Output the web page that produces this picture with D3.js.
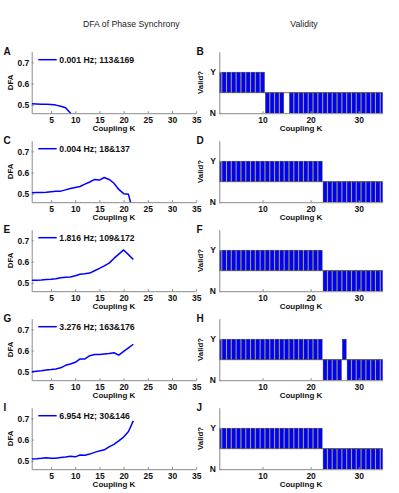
<!DOCTYPE html>
<html><head><meta charset="utf-8">
<script src="https://cdn.jsdelivr.net/npm/d3@7"></script>
<style>body{margin:0;background:#fff}</style>
</head><body><svg id="c" width="399" height="493"></svg>
<script>
// ---------- data ----------
const couplingK = [1,2,3,4,5,6,7,8,9,10,11,12,13,14,15,16,17,18,19,20,21,22,23,24,25,26,27,28,29,30,31,32,33,34,35];

const dfaA = [0.505,0.504,0.503,0.503,0.502,0.499,0.494,0.487,0.462,0.400];
const dfaC = [0.505,0.506,0.507,0.508,0.510,0.512,0.513,0.519,0.525,0.530,0.535,0.546,0.556,0.568,0.565,0.577,0.568,0.550,0.521,0.501,0.498,0.410];
const dfaE = [0.512,0.513,0.514,0.516,0.517,0.519,0.524,0.526,0.528,0.534,0.541,0.543,0.546,0.557,0.568,0.580,0.593,0.615,0.635,0.655,0.633,0.610];
const dfaG = [0.501,0.503,0.505,0.509,0.511,0.514,0.519,0.531,0.537,0.545,0.561,0.561,0.576,0.582,0.582,0.584,0.586,0.590,0.579,0.596,0.613,0.630];
const dfaI = [0.509,0.510,0.512,0.515,0.512,0.513,0.516,0.518,0.522,0.519,0.528,0.527,0.532,0.540,0.547,0.552,0.566,0.578,0.594,0.612,0.638,0.688];

// validity: 1 = Y, -1 = N, null = no bar
const validB = [1,1,1,1,1,1,1,1,1,1,-1,-1,-1,-1,null,-1,-1,-1,-1,-1,-1,-1,-1,-1,-1,-1,-1,-1,-1,-1,-1,-1,-1,-1,-1];
const validD = [1,1,1,1,1,1,1,1,1,1,1,1,1,1,1,1,1,1,1,1,1,1,-1,-1,-1,-1,-1,-1,-1,-1,-1,-1,-1,-1,-1];
const validF = [1,1,1,1,1,1,1,1,1,1,1,1,1,1,1,1,1,1,1,1,1,1,-1,-1,-1,-1,-1,-1,-1,-1,-1,-1,-1,-1,-1];
const validH = [1,1,1,1,1,1,1,1,1,1,1,1,1,1,1,1,1,1,1,1,1,1,-1,-1,-1,-1,1,-1,-1,-1,-1,-1,-1,-1,-1];
const validJ = [1,1,1,1,1,1,1,1,1,1,1,1,1,1,1,1,1,1,1,1,1,1,-1,-1,-1,-1,-1,-1,-1,-1,-1,-1,-1,-1,-1];

const legendLabels = ["0.001 Hz; 113&169","0.004 Hz; 18&137","1.816 Hz; 109&172","3.276 Hz; 163&176","6.954 Hz; 30&146"];
const leftLetters = ["A","C","E","G","I"];
const rightLetters = ["B","D","F","H","J"];
const dfaTicks = [0.5,0.6,0.7];
const kTicksLeft = [5,10,15,20,25,30,35];
const kTicksRight = [10,20,30];
const validTickValues = [-1,1];
const validTickLabels = ["N","Y"];
const titles = ["DFA of Phase Synchrony","Validity"];

const dfaSeries = [dfaA,dfaC,dfaE,dfaG,dfaI];
const validSeries = [validB,validD,validF,validH,validJ];

// ---------- drawing ----------
const svg = d3.select("#c");
const FONT = "'Liberation Sans', Arial, Helvetica, sans-serif";
const BLUE = "#0000ff";
const AX = "#8a8a8a";

svg.append("text").attr("x",131.3).attr("y",27).attr("text-anchor","middle")
  .attr("font-family",FONT).attr("font-size",8.7).attr("fill","#222").text(titles[0]);
svg.append("text").attr("x",304).attr("y",27).attr("text-anchor","middle")
  .attr("font-family",FONT).attr("font-size",8.7).attr("fill","#222").text(titles[1]);

function styleAxis(g){
  g.select(".domain").attr("stroke",AX).attr("stroke-width",1);
  g.selectAll(".tick line").attr("stroke",AX);
  g.selectAll(".tick text").attr("font-family",FONT).attr("font-size",8.5)
    .attr("font-weight","bold").attr("fill","#111");
}

for (let i=0;i<5;i++){
  const top = 51.7 + i*89;
  const bottom = top + 61.5;

  // ----- left panel -----
  const xL = d3.scaleLinear().domain([1,35]).range([31.7,196.2]);
  const yL = d3.scaleLinear().domain([0.461,0.75]).range([bottom,top]);
  const clipL = "clipL"+i;
  svg.append("clipPath").attr("id",clipL).append("rect")
    .attr("x",xL(1)).attr("y",top).attr("width",xL(35)-xL(1)).attr("height",bottom-top);

  const gxL = svg.append("g").attr("transform",`translate(0,${bottom})`)
    .call(d3.axisBottom(xL).tickValues(kTicksLeft).tickSizeInner(-2).tickSizeOuter(0).tickPadding(4).tickFormat(d3.format("d")));
  styleAxis(gxL);
  const gyL = svg.append("g").attr("transform",`translate(${xL(1)},0)`)
    .call(d3.axisLeft(yL).tickValues(dfaTicks).tickSizeInner(-2).tickSizeOuter(0).tickPadding(2.4).tickFormat(d3.format(".1f")));
  styleAxis(gyL);

  const line = d3.line().x((d,j)=>xL(couplingK[j])).y(d=>yL(d));
  svg.append("path").datum(dfaSeries[i]).attr("clip-path",`url(#${clipL})`)
    .attr("d",line).attr("fill","none").attr("stroke",BLUE).attr("stroke-width",1.5)
    .attr("stroke-linejoin","round");

  // legend
  const lx = xL(1);
  svg.append("line").attr("x1",lx+6.6).attr("x2",lx+25).attr("y1",top+8).attr("y2",top+8)
    .attr("stroke",BLUE).attr("stroke-width",1.5);
  svg.append("text").attr("x",lx+27.6).attr("y",top+11).attr("font-family",FONT)
    .attr("font-size",8.7).attr("font-weight","bold").attr("fill","#111").text(legendLabels[i]);

  svg.append("text").attr("transform",`translate(12.7,${(top+bottom)/2}) rotate(-90)`)
    .attr("text-anchor","middle").attr("font-family",FONT).attr("font-size",7.8)
    .attr("font-weight","bold").attr("fill","#111").text("DFA");
  svg.append("text").attr("x",(xL(1)+xL(35))/2).attr("y",bottom+17.5).attr("text-anchor","middle")
    .attr("font-family",FONT).attr("font-size",8).attr("font-weight","bold").attr("fill","#111")
    .text("Coupling K");
  svg.append("text").attr("x",3.5).attr("y",top+3.5).attr("font-family",FONT).attr("font-size",10)
    .attr("font-weight","bold").attr("fill","#111").text(leftLetters[i]);

  // ----- right panel -----
  const xR = d3.scaleLinear().domain([1,35]).range([219.3,382.7]);
  const yR = d3.scaleLinear().domain([-1,2]).range([bottom,top]);
  const clipR = "clipR"+i;
  svg.append("clipPath").attr("id",clipR).append("rect")
    .attr("x",xR(1)).attr("y",top).attr("width",xR(35)-xR(1)).attr("height",bottom-top);

  const bars = couplingK.map((k,j)=>({k:k,v:validSeries[i][j]})).filter(d=>d.v!==null);
  const bw = xR(1.8)-xR(1);
  svg.append("g").attr("clip-path",`url(#${clipR})`).selectAll("rect").data(bars).join("rect")
    .attr("x",d=>xR(d.k-0.4)).attr("width",bw)
    .attr("y",d=>Math.min(yR(d.v),yR(0))).attr("height",d=>Math.abs(yR(d.v)-yR(0)))
    .attr("fill",BLUE).attr("stroke","#3a3a3a").attr("stroke-width",0.5);
  svg.append("line").attr("x1",xR(1)).attr("x2",xR(35)).attr("y1",yR(0)).attr("y2",yR(0))
    .attr("stroke","#555").attr("stroke-width",0.8);

  const gxR = svg.append("g").attr("transform",`translate(0,${bottom})`)
    .call(d3.axisBottom(xR).tickValues(kTicksRight).tickSizeInner(-2).tickSizeOuter(0).tickPadding(4).tickFormat(d3.format("d")));
  styleAxis(gxR);
  const gyR = svg.append("g").attr("transform",`translate(${xR(1)},0)`)
    .call(d3.axisLeft(yR).tickValues(validTickValues).tickSizeInner(-2).tickSizeOuter(0).tickPadding(3.4)
      .tickFormat((d,j)=>validTickLabels[j]));
  styleAxis(gyR);

  svg.append("text").attr("transform",`translate(203,${(top+bottom)/2}) rotate(-90)`)
    .attr("text-anchor","middle").attr("font-family",FONT).attr("font-size",7.8)
    .attr("font-weight","bold").attr("fill","#111").text("Valid?");
  svg.append("text").attr("x",(xR(1)+xR(35))/2).attr("y",bottom+17.5).attr("text-anchor","middle")
    .attr("font-family",FONT).attr("font-size",8).attr("font-weight","bold").attr("fill","#111")
    .text("Coupling K");
  svg.append("text").attr("x",196.5).attr("y",top+3.5).attr("font-family",FONT).attr("font-size",10)
    .attr("font-weight","bold").attr("fill","#111").text(rightLetters[i]);
}
</script></body></html>
